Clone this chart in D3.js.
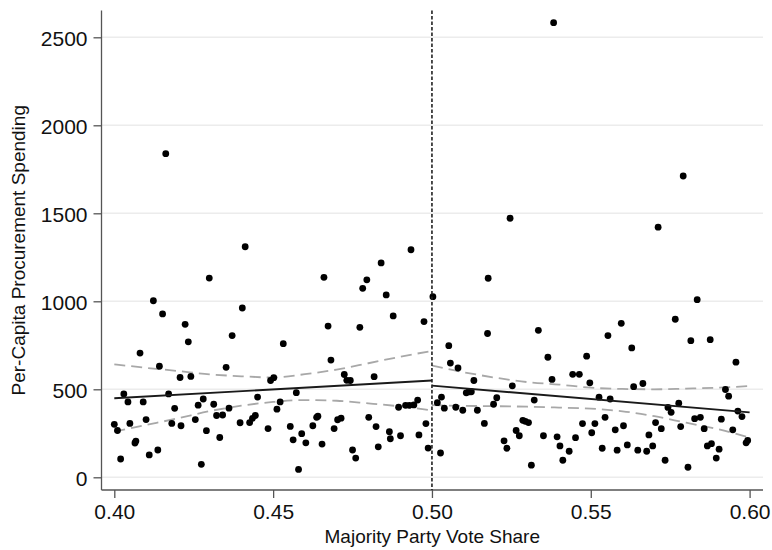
<!DOCTYPE html>
<html>
<head>
<meta charset="utf-8">
<script src="https://cdn.jsdelivr.net/npm/d3@7"></script>
<style>
  html, body { margin: 0; padding: 0; background: #fff; }
  svg { display: block; font-family: "Liberation Sans", Arial, Helvetica, sans-serif; }
</style>
</head>
<body>
<svg id="chart" width="772" height="550"></svg>
<script>
// District observations: majority party vote share and per-capita procurement spending
const voteShare = [
  0.4000, 0.4010, 0.4020, 0.4030, 0.4043, 0.4049, 0.4065, 0.4068, 0.4081, 0.4091,
  0.4100, 0.4110, 0.4123, 0.4137, 0.4142, 0.4152, 0.4162, 0.4171, 0.4181, 0.4190,
  0.4207, 0.4210, 0.4223, 0.4233, 0.4241, 0.4255, 0.4264, 0.4274, 0.4280, 0.4290,
  0.4299, 0.4313, 0.4322, 0.4332, 0.4341, 0.4352, 0.4361, 0.4371, 0.4396, 0.4403,
  0.4412, 0.4426, 0.4435, 0.4444, 0.4451, 0.4484, 0.4492, 0.4502, 0.4512, 0.4522,
  0.4532, 0.4554, 0.4563, 0.4573, 0.4580, 0.4590, 0.4603, 0.4625, 0.4637, 0.4641,
  0.4654, 0.4660, 0.4673, 0.4682, 0.4692, 0.4703, 0.4714, 0.4724, 0.4732, 0.4743,
  0.4750, 0.4760, 0.4773, 0.4782, 0.4795, 0.4801, 0.4818, 0.4824, 0.4831, 0.4840,
  0.4856, 0.4866, 0.4869, 0.4878, 0.4895, 0.4901, 0.4917, 0.4929, 0.4943, 0.4955,
  0.4959, 0.4975, 0.4981, 0.4988, 0.4934,
  0.5003, 0.5017, 0.5030, 0.5039, 0.5027, 0.5053, 0.5058, 0.5082, 0.5075, 0.5097,
  0.5108, 0.5116, 0.5124, 0.5132, 0.5143, 0.5165, 0.5175, 0.5177, 0.5194, 0.5204,
  0.5227, 0.5236, 0.5246, 0.5253, 0.5265, 0.5275, 0.5286, 0.5294, 0.5304, 0.5313,
  0.5322, 0.5335, 0.5351, 0.5365, 0.5378, 0.5383, 0.5394, 0.5403, 0.5412, 0.5432,
  0.5443, 0.5452, 0.5464, 0.5474, 0.5487, 0.5497, 0.5503, 0.5513, 0.5526, 0.5536,
  0.5545, 0.5554, 0.5561, 0.5577, 0.5583, 0.5596, 0.5603, 0.5615, 0.5629, 0.5635,
  0.5648, 0.5664, 0.5676, 0.5683, 0.5695, 0.5704, 0.5712, 0.5722, 0.5734, 0.5743,
  0.5753, 0.5766, 0.5777, 0.5783, 0.5791, 0.5806, 0.5815, 0.5827, 0.5835, 0.5845,
  0.5857, 0.5867, 0.5880, 0.5876, 0.5895, 0.5904, 0.5911, 0.5924, 0.5934, 0.5947,
  0.5957, 0.5963, 0.5976, 0.5989, 0.5994
];
const spending = [
  301, 266, 104, 474, 428, 306, 195, 206, 706, 428,
  328, 127, 1003, 155, 631, 928, 1839, 474, 306, 392,
  567, 293, 869, 770, 573, 328, 410, 74, 445, 265,
  1132, 415, 351, 226, 354, 625, 393, 805, 310, 962,
  1310, 311, 335, 351, 456, 277, 550, 566, 387, 428,
  759, 289, 213, 481, 45, 248, 196, 293, 341, 347,
  189, 1136, 859, 666, 277, 327, 336, 584, 551, 550,
  155, 109, 852, 1074, 1122, 341, 572, 288, 173, 1218,
  1036, 259, 219, 917, 398, 236, 409, 409, 411, 439,
  241, 885, 305, 166, 1293,
  1026, 424, 456, 393, 138, 748, 649, 621, 398, 381,
  480, 485, 486, 550, 381, 306, 817, 1131, 415, 452,
  207, 165, 1472, 520, 266, 236, 324, 318, 311, 69,
  439, 835, 236, 682, 556, 2583, 230, 178, 97, 148,
  585, 225, 585, 305, 688, 537, 253, 305, 455, 165,
  341, 805, 445, 270, 154, 875, 293, 184, 735, 515,
  154, 533, 148, 241, 178, 311, 1421, 276, 97, 397,
  369, 898, 421, 288, 1712, 57, 776, 333, 1009, 341,
  276, 178, 191, 782, 109, 160, 330, 499, 461, 270,
  654, 376, 345, 196, 209
];

const cutoff = 0.5;
const xTicks = [0.40, 0.45, 0.50, 0.55, 0.60];
const yTicks = [0, 500, 1000, 1500, 2000, 2500];

// Linear fits on each side of the cutoff
const fitLeftX = [0.40, 0.50];
const fitLeftY = [449, 550];
const fitRightX = [0.50, 0.60];
const fitRightY = [521, 369];

// 95% confidence bands of the fits
const ciLeftX = [0.40, 0.41, 0.42, 0.43, 0.44, 0.45, 0.46, 0.47, 0.48, 0.49, 0.50];
const ciLeftUpper = [642, 622, 604, 585, 574, 567, 586, 612, 648, 685, 718];
const ciLeftLower = [259, 297, 335, 376, 407, 428, 439, 435, 420, 403, 380];
const ciRightX = [0.50, 0.51, 0.52, 0.53, 0.54, 0.55, 0.56, 0.57, 0.58, 0.59, 0.60];
const ciRightUpper = [635, 597, 566, 541, 527, 509, 502, 500, 504, 509, 519];
const ciRightLower = [410, 406, 404, 401, 396, 390, 375, 347, 310, 274, 225];

const svg = d3.select("#chart");
const box = { left: 101.5, right: 763, top: 10.5, bottom: 490 };

const x = d3.scaleLinear().domain([0.40, 0.60]).range([114.3, 749.6]);
const y = d3.scaleLinear().domain([0, 2500]).range([477.3, 37.3]);

// horizontal grid lines
svg.append("g")
  .selectAll("line")
  .data(yTicks)
  .join("line")
  .attr("x1", box.left).attr("x2", box.right)
  .attr("y1", d => y(d)).attr("y2", d => y(d))
  .attr("stroke", "#ececec")
  .attr("stroke-width", 1.5);

// y axis
const yAxis = svg.append("g")
  .attr("transform", `translate(${box.left},0)`)
  .call(d3.axisLeft(y).tickValues(yTicks).tickFormat(d3.format("d")).tickSize(8).tickPadding(6));
yAxis.select(".domain").remove();
yAxis.selectAll(".tick line").attr("stroke", "#555").attr("stroke-width", 1.3);
yAxis.selectAll(".tick text")
  .attr("fill", "#111")
  .attr("font-size", 21)
  .attr("dy", "0.4em")
  .style("font-family", "'Liberation Sans', Arial, sans-serif");

// x axis
const xAxis = svg.append("g")
  .attr("transform", `translate(0,${box.bottom})`)
  .call(d3.axisBottom(x).tickValues(xTicks).tickFormat(d3.format(".2f")).tickSize(8).tickPadding(6));
xAxis.select(".domain").remove();
xAxis.selectAll(".tick line").attr("stroke", "#555").attr("stroke-width", 1.3);
xAxis.selectAll(".tick text")
  .attr("fill", "#111")
  .attr("font-size", 21)
  .style("font-family", "'Liberation Sans', Arial, sans-serif");

// axis lines
svg.append("line")
  .attr("x1", box.left).attr("x2", box.left)
  .attr("y1", box.top).attr("y2", box.bottom)
  .attr("stroke", "#555").attr("stroke-width", 1.3);
svg.append("line")
  .attr("x1", box.left).attr("x2", box.right)
  .attr("y1", box.bottom).attr("y2", box.bottom)
  .attr("stroke", "#555").attr("stroke-width", 1.3);

// confidence bands
const band = d3.line()
  .x(d => x(d[0]))
  .y(d => y(d[1]))
  .curve(d3.curveMonotoneX);
const bands = [
  d3.zip(ciLeftX, ciLeftUpper), d3.zip(ciLeftX, ciLeftLower),
  d3.zip(ciRightX, ciRightUpper), d3.zip(ciRightX, ciRightLower)
];
svg.append("g")
  .selectAll("path")
  .data(bands)
  .join("path")
  .attr("d", band)
  .attr("fill", "none")
  .attr("stroke", "#a8a8a8")
  .attr("stroke-width", 1.8)
  .attr("stroke-dasharray", "11,6");

// observations
svg.append("g")
  .selectAll("circle")
  .data(d3.zip(voteShare, spending))
  .join("circle")
  .attr("cx", d => x(d[0]))
  .attr("cy", d => y(d[1]))
  .attr("r", 3.4)
  .attr("fill", "#000");

// fitted lines
const fit = d3.line().x(d => x(d[0])).y(d => y(d[1]));
svg.append("g")
  .selectAll("path")
  .data([d3.zip(fitLeftX, fitLeftY), d3.zip(fitRightX, fitRightY)])
  .join("path")
  .attr("d", fit)
  .attr("fill", "none")
  .attr("stroke", "#1a1a1a")
  .attr("stroke-width", 1.9);

// cutoff line
svg.append("line")
  .attr("x1", x(cutoff)).attr("x2", x(cutoff))
  .attr("y1", box.top).attr("y2", box.bottom)
  .attr("stroke", "#222")
  .attr("stroke-width", 1.6)
  .attr("stroke-dasharray", "3.5,2");

// axis titles
svg.append("text")
  .attr("x", (box.left + box.right) / 2)
  .attr("y", 542.5)
  .attr("text-anchor", "middle")
  .attr("font-size", 19)
  .attr("fill", "#111")
  .text("Majority Party Vote Share");

svg.append("text")
  .attr("transform", `translate(24.5,${(box.top + box.bottom) / 2}) rotate(-90)`)
  .attr("text-anchor", "middle")
  .attr("font-size", 19)
  .attr("fill", "#111")
  .text("Per-Capita Procurement Spending");
</script>
</body>
</html>
